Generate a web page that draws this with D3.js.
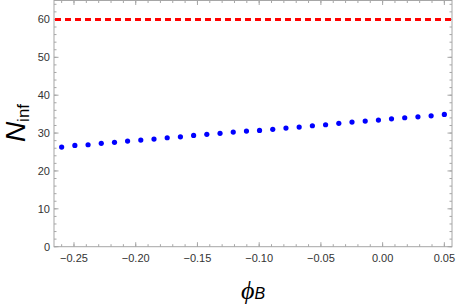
<!DOCTYPE html>
<html><head><meta charset="utf-8">
<script src="https://cdn.jsdelivr.net/npm/d3@7"></script>
<style>body{margin:0;background:#fff}svg{display:block}</style>
</head><body>
<script>
const phiB = [-0.26, -0.2493, -0.2386, -0.2279, -0.2172, -0.2066, -0.1959, -0.1852, -0.1745, -0.1638,
  -0.1531, -0.1424, -0.1317, -0.1210, -0.1103, -0.0997, -0.0890, -0.0783, -0.0676, -0.0569,
  -0.0462, -0.0355, -0.0248, -0.0141, -0.0034, 0.0072, 0.0179, 0.0286, 0.0393, 0.05];
const nInf = [26.31, 26.75, 26.91, 27.28, 27.55, 27.89, 28.15, 28.42, 28.76, 29.02,
  29.39, 29.66, 29.92, 30.26, 30.53, 30.71, 30.98, 31.32, 31.58, 31.93,
  32.19, 32.56, 32.90, 33.17, 33.43, 33.77, 34.04, 34.30, 34.56, 34.93];
const refLine = [60];
const xTicks = [-0.25, -0.20, -0.15, -0.10, -0.05, 0.00, 0.05];
const yTicks = [0, 10, 20, 30, 40, 50, 60];

const W = 458, H = 305;
const L = 54, R = 452, T = 0.5, B = 246.7;
const svg = d3.select("body").append("svg").attr("width", W).attr("height", H);

const x = d3.scaleLinear().domain([-0.2662, 0.0562]).range([L, R]);
const y = d3.scaleLinear().domain([0, 65]).range([B, T]);

const frameColor = "#a6a6a6";
const g = svg.append("g");

// minor ticks
const xMinor = d3.range(-27, 6).map(d => d / 100).filter(v => v >= -0.2662 && v <= 0.0562);
const yMinor = d3.range(0, 66, 2);

function ticksH(vals, len) {
  vals.forEach(v => {
    const px = x(v);
    g.append("line").attr("x1", px).attr("x2", px).attr("y1", B).attr("y2", B - len).attr("stroke", frameColor).attr("stroke-width", 1);
    g.append("line").attr("x1", px).attr("x2", px).attr("y1", T).attr("y2", T + len).attr("stroke", frameColor).attr("stroke-width", 1);
  });
}
function ticksV(vals, len) {
  vals.forEach(v => {
    const py = y(v);
    g.append("line").attr("x1", L).attr("x2", L + len).attr("y1", py).attr("y2", py).attr("stroke", frameColor).attr("stroke-width", 1);
    g.append("line").attr("x1", R).attr("x2", R - len).attr("y1", py).attr("y2", py).attr("stroke", frameColor).attr("stroke-width", 1);
  });
}
ticksH(xMinor, 2.5);
ticksH(xTicks, 4.5);
ticksV(yMinor, 2.5);
ticksV(yTicks, 4.5);

// frame
g.append("rect").attr("x", L).attr("y", T).attr("width", R - L).attr("height", B - T)
  .attr("fill", "none").attr("stroke", frameColor).attr("stroke-width", 1);

// tick labels
const fmtX = d => (d < 0 ? "\u2212" : "") + Math.abs(d).toFixed(2);
g.selectAll(".xl").data(xTicks).enter().append("text")
  .attr("x", d => x(d)).attr("y", B + 15)
  .attr("text-anchor", "middle").attr("font-family", "Liberation Sans, Arial, sans-serif")
  .attr("font-size", 11).attr("fill", "#333").text(fmtX);
g.selectAll(".yl").data(yTicks).enter().append("text")
  .attr("x", L - 4).attr("y", d => y(d) + 4)
  .attr("text-anchor", "end").attr("font-family", "Liberation Sans, Arial, sans-serif")
  .attr("font-size", 11).attr("fill", "#333").text(d => d);

// reference dashed line
svg.selectAll(".ref").data(refLine).enter().append("line")
  .attr("x1", L + 1).attr("x2", R).attr("y1", d => y(d)).attr("y2", d => y(d))
  .attr("stroke", "#ff0000").attr("stroke-width", 3).attr("stroke-dasharray", "6,4");

// points
svg.selectAll(".pt").data(phiB).enter().append("circle")
  .attr("cx", d => x(d)).attr("cy", (d, i) => y(nInf[i])).attr("r", 2.6).attr("fill", "#0000ff");

// axis labels
const xl = svg.append("text").attr("x", 253).attr("y", 299).attr("text-anchor", "middle")
  .attr("font-family", "Liberation Serif, Times New Roman, serif").attr("fill", "#000");
xl.append("tspan").attr("font-size", 26).attr("font-style", "italic").text("\u03D5");
xl.append("tspan").attr("font-size", 16).attr("font-style", "italic")
  .attr("font-family", "Liberation Sans, Arial, sans-serif").text("B");

const yl = svg.append("text").attr("transform", "translate(25,123) rotate(-90)").attr("text-anchor", "middle")
  .attr("font-family", "Liberation Sans, Arial, sans-serif").attr("fill", "#000");
yl.append("tspan").attr("font-size", 28).attr("font-style", "italic").text("N");
yl.append("tspan").attr("font-size", 17).attr("dy", 4).text("inf");
</script>
</body></html>
